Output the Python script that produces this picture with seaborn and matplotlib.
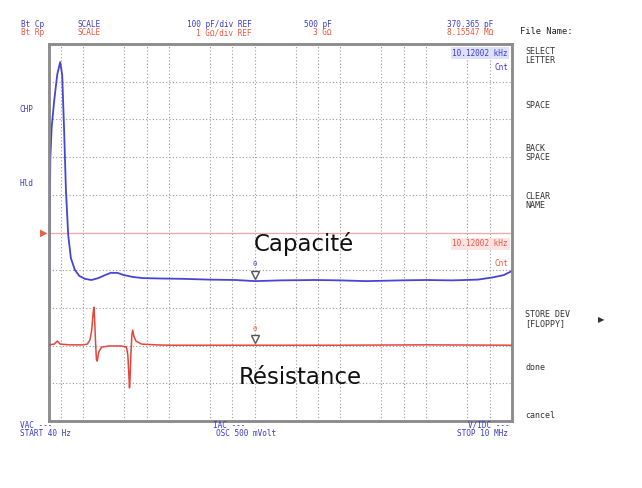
import matplotlib
matplotlib.use('Agg')
import matplotlib.pyplot as plt
import matplotlib.transforms as mtransforms
import seaborn as sns
import pandas as pd

freq_cp = [40, 40.3, 40.8, 41.5, 43, 46, 50, 54, 57, 60, 63, 67, 72, 80, 90, 105, 125, 150, 180,
           210, 250, 300, 380, 500, 800, 1500, 3000, 6000, 10120, 20000, 50000, 1e5, 2e5,
           5e5, 1e6, 2e6, 4e6, 6e6, 8e6, 1e7]
cp_pf = [29, 300, 560, 700, 780, 850, 920, 952, 918, 772, 613, 493, 432, 401, 385, 377, 374, 379, 387,
         393, 393, 387, 382, 379, 378, 377, 375, 374, 371, 373, 374, 373, 371,
         373, 374, 373, 375, 381, 387, 398]

freq_rp = [40, 46, 50, 54, 70, 100, 112, 120, 126, 131, 134, 137, 140, 143, 146, 152, 164,
           200, 280, 320, 332, 340, 347, 352, 360, 370, 378, 390, 413, 480, 700, 1000,
           10120, 1e5, 1e6, 1e7]
rp_gohm = [0.02, 0.04, 0.12, 0.04, 0.02, 0.02, 0.04, 0.15, 0.41, 0.89, 1.02, 0.55, 0.02, -0.38,
           -0.41, -0.17, -0.04, -0.01, -0.01, -0.04, -0.25, -0.70, -1.12, -0.91, -0.25, 0.28,
           0.41, 0.25, 0.12, 0.04, 0.02, 0.01, 0.01, 0.01, 0.02, 0.01]

grid_freqs = [55, 100, 300, 550, 1000, 3000, 5500, 1e4, 3e4, 5.5e4, 1e5, 3e5, 5.5e5,
              1e6, 3e6, 5.5e6]
grid_cp = [100, 200, 300, 400, 500, 600, 700, 800, 900]

marker_freq = 10120.02
marker_cp = 370.365
marker_rp = 0.00815547

header_blue = ["Bt Cp", "SCALE", "100 pF/div REF", "500 pF", "370.365 pF"]
header_red = ["Bt Rp", "SCALE", "1 GΩ/div REF", "3 GΩ", "8.15547 MΩ"]
menu_items = ["SELECT\nLETTER", "SPACE", "BACK\nSPACE", "CLEAR\nNAME", "STORE DEV\n[FLOPPY]",
              "done", "cancel"]

# ---- styling ----
sns.set_theme(style='white')
plt.rcParams['font.family'] = ['DejaVu Sans']

BLUE = '#4646d2'
BLUE_T = '#3c3cc8'
RED = '#e3473b'
RED_T = '#e8583e'
GRID = '#9a9a9a'
MONO = 'DejaVu Sans Mono'

W, H = 642, 488
L, R, T, B = 49, 512, 44, 421
fig = plt.figure(figsize=(W / 100, H / 100), dpi=100)
fig.patch.set_facecolor('white')
ax = fig.add_axes([L / W, 1 - B / H, (R - L) / W, (B - T) / H])
ax.set_xscale('log')
ax.set_xlim(40, 1e7)
ax.set_ylim(0, 1000)
ax2 = ax.twinx()
ax2.set_ylim(-2, 8)

for f in grid_freqs:
    ax.axvline(f, color=GRID, lw=0.8, ls=(0, (1, 2)), zorder=0)
for c in grid_cp:
    ax.axhline(c, color=GRID, lw=0.8, ls=(0, (1, 2)), zorder=0)
ax.axhline(500, color='#f2a8a8', lw=0.9, zorder=0.5)

df_cp = pd.DataFrame({'f': freq_cp, 'v': cp_pf})
df_rp = pd.DataFrame({'f': freq_rp, 'v': rp_gohm})
sns.lineplot(data=df_cp, x='f', y='v', ax=ax, color=BLUE, lw=1.3, zorder=3)
sns.lineplot(data=df_rp, x='f', y='v', ax=ax2, color=RED, lw=1.1, zorder=3)
for a in (ax, ax2):
    a.set_xticks([])
    a.set_xticks([], minor=True)
    a.set_yticks([])
    a.set_ylabel('')
    a.set_xlabel('')
    for s in a.spines.values():
        s.set_color('#8c8c8c')
        s.set_linewidth(1.8)

# markers
off1 = mtransforms.offset_copy(ax.transData, fig=fig, y=6, units='dots')
ax.plot([marker_freq], [marker_cp], marker='v', ms=6, mfc='white', mec='#555555', mew=1,
        transform=off1, zorder=5)
off1b = mtransforms.offset_copy(ax.transData, fig=fig, y=17, units='dots')
ax.text(marker_freq, marker_cp, '0', transform=off1b, color=BLUE_T, fontsize=5,
        ha='center', va='center', family=MONO, zorder=5)
off2 = mtransforms.offset_copy(ax2.transData, fig=fig, y=6, units='dots')
ax2.plot([marker_freq], [marker_rp], marker='v', ms=6, mfc='white', mec='#555555', mew=1,
         transform=off2, zorder=5)
off2b = mtransforms.offset_copy(ax2.transData, fig=fig, y=16, units='dots')
ax2.text(marker_freq, marker_rp, '0', transform=off2b, color=RED_T, fontsize=5,
         ha='center', va='center', family=MONO, zorder=5)


def ft(x, y, s, color, size=5.6, ha='left', va='center', family=MONO, **kw):
    return fig.text(x / W, 1 - y / H, s, color=color, fontsize=size, ha=ha, va=va,
                    family=family, **kw)


# header rows
hx = [(21, 'left'), (78, 'left'), (252, 'right'), (332, 'right'), (493, 'right')]
for (x, ha), s in zip(hx, header_blue):
    ft(x, 24.5, s, BLUE_T, ha=ha)
for (x, ha), s in zip(hx, header_red):
    ft(x, 32.5, s, RED_T, ha=ha)
ft(520, 32, "File Name:", '#222222', size=6.3)

# left labels
ft(19, 109, "CHP", BLUE_T)
ft(19, 184, "Hld", BLUE_T)
ft(44, 233, "▶", '#e8604a', size=7, ha='center', family='DejaVu Sans')

# right menu
menu_y = [56, 106, 153, 201, 319, 368, 416]
for y, s in zip(menu_y, menu_items):
    ft(525, y, s, '#333333', size=6, linespacing=1.05)
ft(601, 320, "▶", '#333333', size=6, ha='center', family='DejaVu Sans')

# bottom labels
ft(20, 425.5, "VAC ---", BLUE_T)
ft(20, 433.5, "START 40 Hz", BLUE_T)
ft(213, 425.5, "IAC ---", BLUE_T)
ft(216, 433.5, "OSC 500 mVolt", BLUE_T)
ft(510, 425.5, "V/IDC ---", BLUE_T, ha='right')
ft(508, 433.5, "STOP 10 MHz", BLUE_T, ha='right')

# in-plot marker readouts
ft(508, 53, "10.12002 kHz", BLUE_T, ha='right',
   bbox=dict(boxstyle='square,pad=0.15', fc='#dfe1fb', ec='none'))
ft(508, 68, "Cnt", BLUE_T, ha='right')
ft(508, 244, "10.12002 kHz", RED_T, ha='right',
   bbox=dict(boxstyle='square,pad=0.25', fc='#fde3e3', ec='none'))
ft(508, 264, "Cnt", RED_T, ha='right')

# big annotations
ft(304, 251, "Capacité", '#111111', size=16.5, ha='center', va='baseline', family='DejaVu Sans')
ft(300, 384, "Résistance", '#111111', size=16.5, ha='center', va='baseline', family='DejaVu Sans')

fig.savefig('out.png', dpi=100, facecolor='white')
